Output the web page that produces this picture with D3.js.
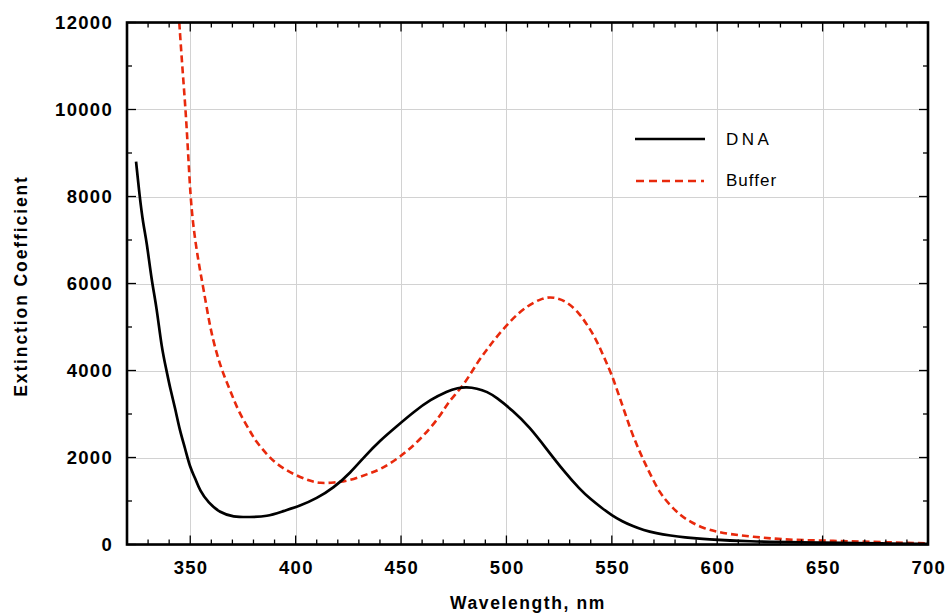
<!DOCTYPE html>
<html>
<head>
<meta charset="utf-8">
<script src="https://cdn.jsdelivr.net/npm/d3@7"></script>
<style>
  html, body { margin: 0; padding: 0; background: #fff; }
  svg { display: block; }
</style>
</head>
<body>
<svg id="chart" width="949" height="614"></svg>
<script>
// ---- data ----
const seriesNames = ["DNA", "Buffer"];

const dnaWavelength = [324.3, 326, 327.7, 329.3, 331.7, 334.1, 336.4, 338.8, 340.4, 342.8, 345.1, 347.5, 349.9, 352.3, 354.6, 358.6, 364.1, 370.4, 378, 386.4, 394.2, 402, 410, 418, 426, 433, 440, 448, 456, 464, 472, 477, 481, 486, 491, 495, 503, 511, 519, 527, 535, 540, 545, 550, 555, 560, 565, 571, 578, 584, 595, 615, 640, 660, 677, 700];
const dnaValue = [8800, 8000, 7360, 6980, 6060, 5445, 4525, 3990, 3605, 3145, 2610, 2225, 1765, 1535, 1230, 960, 730, 632, 630, 640, 770, 885, 1060, 1300, 1650, 2040, 2390, 2720, 3050, 3330, 3530, 3600, 3620, 3590, 3510, 3390, 3080, 2700, 2200, 1700, 1260, 1040, 850, 670, 530, 420, 330, 260, 205, 166, 120, 69, 50, 35, 23, 15];

const bufferWavelength = [344.8, 346.2, 347.8, 349, 350.1, 351.5, 353.8, 356.2, 359.4, 362.6, 365.7, 369.7, 372.8, 378.3, 381, 386.3, 391, 398.9, 406.8, 411.6, 417.9, 425.8, 433.7, 440, 449.5, 459, 468.5, 472.4, 479.6, 485.9, 490.6, 493.8, 501.7, 509.6, 517.5, 522.2, 528.6, 534.9, 538, 541, 544, 547, 550, 553, 556, 559, 562, 565, 568, 572.8, 577.6, 582.3, 587.1, 593.4, 599.7, 605.2, 618.7, 631.3, 647.1, 663, 678.8, 696.2, 700];
const bufferValue = [12000, 11000, 10000, 9000, 8000, 7284, 6518, 5905, 4985, 4372, 3913, 3453, 3069, 2610, 2380, 2073, 1843, 1614, 1460, 1407, 1421, 1470, 1614, 1713, 2005, 2402, 2939, 3283, 3644, 4166, 4471, 4680, 5140, 5484, 5676, 5690, 5598, 5292, 5070, 4850, 4560, 4230, 3900, 3480, 3060, 2630, 2270, 1940, 1640, 1177, 908, 678, 525, 372, 295, 241, 168, 115, 92, 76, 53, 30, 28];

const xTickLabels = [350, 400, 450, 500, 550, 600, 650, 700];
const yTickLabels = [0, 2000, 4000, 6000, 8000, 10000, 12000];
const xMinorTicks = d3.range(330, 701, 10);
const yMinorTicks = d3.range(0, 12001, 1000);
const xDomain = [320, 700];
const yDomain = [0, 12000];
const xTitle = "Wavelength, nm";
const yTitle = "Extinction  Coefficient";

// ---- layout ----
const L = 127, R = 928, T = 22.5, B = 544.5;
const RED = "#e8290c";
const svg = d3.select("#chart");
const x = d3.scaleLinear().domain(xDomain).range([L, R]);
const y = d3.scaleLinear().domain(yDomain).range([B, T]);

// grid
const grid = svg.append("g").attr("stroke", "#d2d2d2").attr("stroke-width", 1);
grid.selectAll("line.gx").data(xTickLabels).join("line")
  .attr("x1", d => Math.round(x(d)) + 0.5).attr("x2", d => Math.round(x(d)) + 0.5)
  .attr("y1", T).attr("y2", B);
grid.selectAll("line.gy").data(yTickLabels).join("line")
  .attr("y1", d => Math.round(y(d)) + 0.5).attr("y2", d => Math.round(y(d)) + 0.5)
  .attr("x1", L).attr("x2", R);

// clip
svg.append("clipPath").attr("id", "clip").append("rect")
  .attr("x", L).attr("y", T).attr("width", R - L).attr("height", B - T);

const line = d3.line().x(d => x(d[0])).y(d => y(d[1])).curve(d3.curveBasis);
const dna = dnaWavelength.map((w, i) => [w, dnaValue[i]]);
const buf = bufferWavelength.map((w, i) => [w, bufferValue[i]]);

const plot = svg.append("g").attr("clip-path", "url(#clip)");
plot.append("path").datum(buf).attr("d", line)
  .attr("fill", "none").attr("stroke", RED).attr("stroke-width", 2.6)
  .attr("stroke-dasharray", "7,4");
plot.append("path").datum(dna).attr("d", line)
  .attr("fill", "none").attr("stroke", "#000").attr("stroke-width", 2.7)
  .attr("stroke-linejoin", "round");

// ticks (inward, all four sides)
const ticks = svg.append("g").attr("stroke", "#000").attr("stroke-width", 1.3);
const majX = 9, minX = 5;
function tickX(vals, len) {
  vals.forEach(v => {
    const px = x(v);
    ticks.append("line").attr("x1", px).attr("x2", px).attr("y1", B).attr("y2", B - len);
    ticks.append("line").attr("x1", px).attr("x2", px).attr("y1", T).attr("y2", T + len);
  });
}
function tickY(vals, len) {
  vals.forEach(v => {
    const py = y(v);
    ticks.append("line").attr("y1", py).attr("y2", py).attr("x1", L).attr("x2", L + len);
    ticks.append("line").attr("y1", py).attr("y2", py).attr("x1", R).attr("x2", R - len);
  });
}
tickX(xMinorTicks.filter(v => v % 50 !== 0), minX);
tickX(xTickLabels, majX);
tickY(yMinorTicks.filter(v => v % 2000 !== 0), minX);
tickY(yTickLabels, majX);

// frame
svg.append("rect").attr("x", L).attr("y", T).attr("width", R - L).attr("height", B - T)
  .attr("fill", "none").attr("stroke", "#000").attr("stroke-width", 2.6);

// tick labels
const font = "'Liberation Sans', Arial, Helvetica, sans-serif";
svg.append("g").selectAll("text").data(xTickLabels).join("text")
  .attr("x", d => x(d) + 0.8).attr("y", 574)
  .attr("text-anchor", "middle")
  .style("font-family", font).style("font-weight", "bold").style("font-size", "18.5px")
  .style("letter-spacing", "1.3px")
  .text(d => d);
svg.append("g").selectAll("text").data(yTickLabels).join("text")
  .attr("x", 113).attr("y", d => y(d) + 6.7)
  .attr("text-anchor", "end")
  .style("font-family", font).style("font-weight", "bold").style("font-size", "18.5px")
  .style("letter-spacing", "1.3px")
  .text(d => d);

// axis titles
svg.append("text").attr("x", (L + R) / 2 + 0.5).attr("y", 609)
  .attr("text-anchor", "middle")
  .style("font-family", font).style("font-weight", "bold").style("font-size", "17.5px")
  .style("letter-spacing", "1.6px")
  .text(xTitle);
svg.append("text").attr("transform", "translate(27,286) rotate(-90)")
  .attr("text-anchor", "middle")
  .style("font-family", font).style("font-weight", "bold").style("font-size", "17.5px")
  .style("letter-spacing", "1.9px")
  .text(yTitle);

// legend
const legend = svg.append("g");
legend.append("line").attr("x1", 635).attr("x2", 705).attr("y1", 139).attr("y2", 139)
  .attr("stroke", "#000").attr("stroke-width", 2.6);
legend.append("line").attr("x1", 636).attr("x2", 704).attr("y1", 181).attr("y2", 181)
  .attr("stroke", RED).attr("stroke-width", 2.6).attr("stroke-dasharray", "8,5");
legend.append("text").attr("x", 726).attr("y", 144.5)
  .style("font-family", font).style("font-size", "17px").style("letter-spacing", "3.5px")
  .text(seriesNames[0]);
legend.append("text").attr("x", 726).attr("y", 186)
  .style("font-family", font).style("font-size", "17px").style("letter-spacing", "1px")
  .text(seriesNames[1]);
</script>
</body>
</html>
